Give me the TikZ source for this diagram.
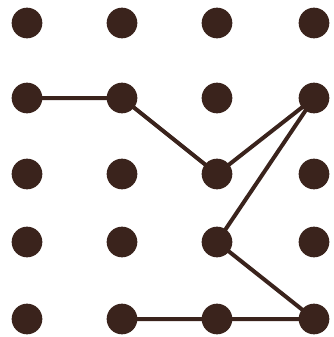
\documentclass[tikz,border=0pt]{standalone}
\usepackage{xcolor}
\usepackage{tikz}
\definecolor{dotbrown}{HTML}{3A231C}

\begin{document}
\begin{tikzpicture}[
  x=0.03cm, y=-0.03cm,
  dot/.style  = {circle, fill=dotbrown, inner sep=0pt, minimum size=0.92cm},
  lnk/.style  = {line width=1.2mm, color=dotbrown, line join=round},
]

\useasboundingbox (0,0) rectangle (333,337);

%% ── Dot grid ────────────────────────────────────────────────────────────────
\foreach \c/\x in {1/27, 2/122, 3/217, 4/314} {
  \foreach \r/\y in {1/23, 2/98, 3/174, 4/242, 5/319} {
    \node[dot] (D\r\c) at (\x,\y) {};
  }
}

%% ── Path through the dots ───────────────────────────────────────────────────
\draw[lnk] (D21.center) -- (D22.center) -- (D33.center) -- (D24.center)
           -- (D43.center) -- (D54.center) -- (D52.center);

\end{tikzpicture}
\end{document}
